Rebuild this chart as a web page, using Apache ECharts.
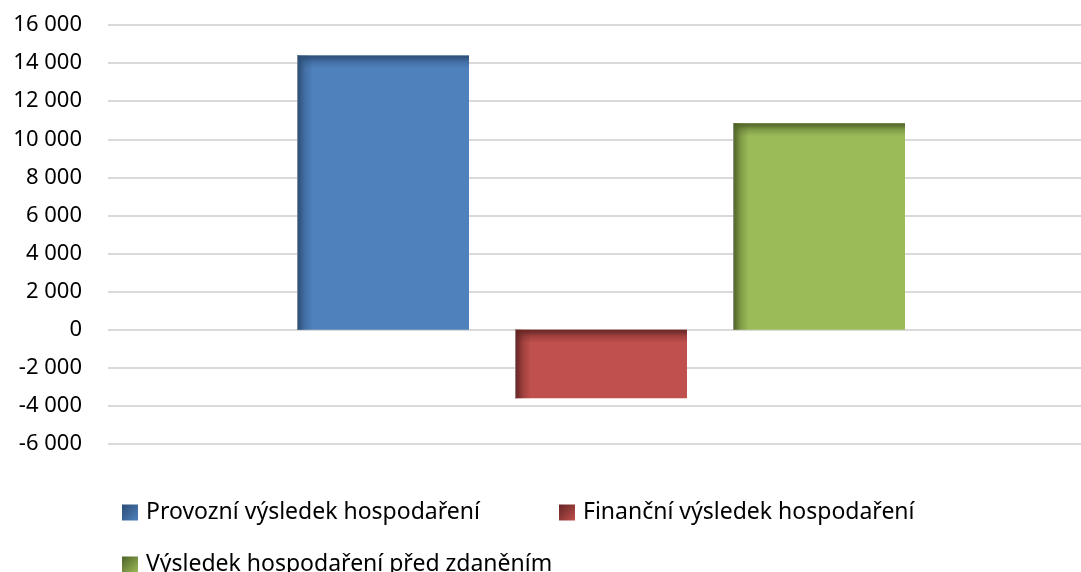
<!DOCTYPE html>
<html>
<head>
<meta charset="utf-8">
<script src="https://cdn.jsdelivr.net/npm/echarts@6/dist/echarts.min.js"></script>
<style>
  html, body { margin: 0; padding: 0; background: #fff; }
  #chart { width: 1081px; height: 572px; }
</style>
</head>
<body>
<div id="chart"></div>
<script>
const categories = ["Výsledek"];
const seriesNames = [
  "Provozní výsledek hospodaření",
  "Finanční výsledek hospodaření",
  "Výsledek hospodaření před zdaněním"
];
const provozni = [14400];
const financni = [-3600];
const predZdanenim = [10840];
const yTicks = { min: -6000, max: 16000, interval: 2000 };

const baseColors = ["#4f81bd", "#c0504d", "#9bbb59"];
const darkColors = ["#2c4d75", "#632523", "#4f6228"];
const BAR_W = 172;
const BAR_STEP = 218;

function legendFill(i) {
  return new echarts.graphic.LinearGradient(0, 0, 1, 1, [
    { offset: 0, color: darkColors[i] },
    { offset: 1, color: baseColors[i] }
  ]);
}

function fmt(v) {
  const s = String(Math.abs(v)).replace(/\B(?=(\d{3})+(?!\d))/g, " ");
  return (v < 0 ? "-" : "") + s;
}

function shade(dark, vertical) {
  return new echarts.graphic.LinearGradient(0, 0, vertical ? 0 : 1, vertical ? 1 : 0, [
    { offset: 0, color: dark },
    { offset: 0.15, color: dark },
    { offset: 0.5, color: echarts.color.modifyAlpha(dark, 0.4) },
    { offset: 1, color: echarts.color.modifyAlpha(dark, 0) }
  ]);
}

// bar with soft inner shade on left and top edges
function barRenderer(i) {
  return function (params, api) {
    const c0 = api.coord([api.value(0), 0]);
    const c1 = api.coord([api.value(0), api.value(1)]);
    const x = c0[0] + (i - 1) * BAR_STEP - BAR_W / 2;
    const y = Math.min(c0[1], c1[1]);
    const h = Math.abs(c1[1] - c0[1]);
    const dark = darkColors[i];
    return {
      type: "group",
      children: [
        { type: "rect", shape: { x: x, y: y, width: BAR_W, height: h },
          style: { fill: baseColors[i] } },
        { type: "rect", shape: { x: x, y: y, width: 16, height: h },
          style: { fill: shade(dark, false), opacity: 0.85 } },
        { type: "rect", shape: { x: x, y: y, width: BAR_W, height: 13 },
          style: { fill: shade(dark, true), opacity: 0.85 } },
        { type: "rect", shape: { x: x, y: y, width: 1, height: h },
          style: { fill: "rgba(160,160,160,0.7)" } }
      ]
    };
  };
}

const seriesData = [provozni, financni, predZdanenim];

const chart = echarts.init(document.getElementById("chart"));
const font = "Noto Sans";
const legendText = { fontFamily: font, fontSize: 23, color: "#000", padding: [0, 0, 0, 3] };
function legendAt(left, top, i) {
  return {
    left: left, top: top, itemWidth: 16, itemHeight: 16,
    icon: "rect",
    textStyle: legendText,
    data: [{ name: seriesNames[i], itemStyle: { color: legendFill(i) } }]
  };
}

chart.setOption({
  animation: false,
  textStyle: { fontFamily: font },
  grid: { left: 108, top: 25, width: 986, height: 419, outerBoundsMode: "none", containLabel: false },
  legend: [
    legendAt(117, 496, 0),
    legendAt(554, 496, 1),
    legendAt(117, 548, 2)
  ],
  xAxis: {
    type: "category",
    data: categories,
    axisLine: { show: false },
    axisTick: { show: false },
    axisLabel: { show: false }
  },
  yAxis: {
    type: "value",
    min: yTicks.min,
    max: yTicks.max,
    interval: yTicks.interval,
    axisLine: { show: false },
    axisTick: { show: false },
    splitLine: { lineStyle: { color: "#d9d9d9", width: 2 } },
    axisLabel: {
      margin: 26,
      fontSize: 22,
      color: "#000",
      fontFamily: font,
      formatter: fmt
    }
  },
  series: seriesData.map(function (vals, i) {
    return {
      name: seriesNames[i],
      type: "custom",
      itemStyle: { color: baseColors[i] },
      encode: { x: 0, y: 1 },
      data: vals.map(function (v, k) { return [k, v]; }),
      renderItem: barRenderer(i)
    };
  })
});
</script>
</body>
</html>
